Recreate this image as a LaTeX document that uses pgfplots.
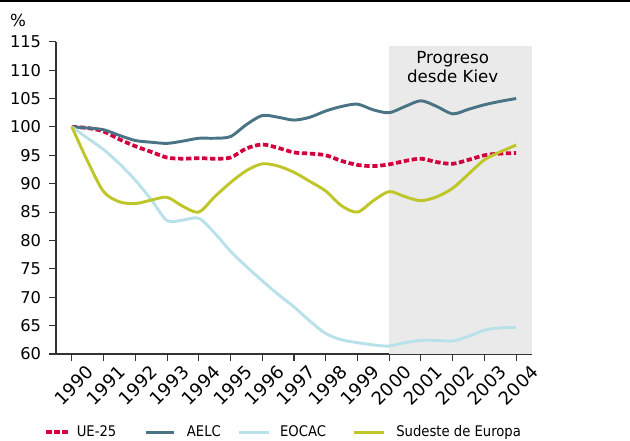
\documentclass[border=0pt]{standalone}
\usepackage{pgfplots}
\pgfplotsset{compat=1.18}
\usepackage{fontspec}
\setmainfont{DejaVu Sans}
\newfontfamily\legfont{DejaVu Sans Condensed}
\definecolor{ue}{HTML}{D2003F}
\definecolor{aelc}{HTML}{4A7486}
\definecolor{eocac}{HTML}{B9E1EA}
\definecolor{sud}{HTML}{BFC62A}
\definecolor{shade}{HTML}{EAEAEA}
\definecolor{axc}{HTML}{333333}
\pgfplotsset{leglen/.style={legend image code/.code={\draw[##1] (0pt,0pt) -- (#1,0pt);}}}
\begin{document}
\begin{tikzpicture}[font=\fontsize{12}{14.5}\selectfont]
\useasboundingbox (0pt,0pt) rectangle (472.5pt,330.75pt);
\draw[line width=1.2pt] (0pt,330.1pt) -- (472.5pt,330.1pt);
\begin{axis}[
  at={(42pt,65.25pt)}, anchor=south west, scale only axis,
  width=357pt, height=234.2pt,
  xmin=1989.5, xmax=2004.5, ymin=60, ymax=115,
  axis x line=bottom, axis y line=left,
  axis line style={-, line width=0.9pt, axc},
  xtick={1990,...,2004}, ytick={60,65,...,115},
  tick style={axc, line width=0.8pt},
  tick align=outside, major tick length=5pt,
  y tick label style={inner sep=0pt, xshift=-6pt, font=\fontsize{12.2}{13}\selectfont},
  x tick label style={rotate=45, anchor=north east, inner sep=0pt, xshift=5.5pt, yshift=-9pt, font=\fontsize{13.5}{14}\selectfont},
  xticklabel={\pgfmathprintnumber[1000 sep={},assume math mode=true]{\tick}},
  yticklabel={\pgfmathprintnumber[assume math mode=true]{\tick}},
  legend style={at={(0.479,-0.25)}, anchor=center, draw=none,
    legend columns=4, font=\legfont\fontsize{11}{13}\selectfont,
    /tikz/column 1/.style={column sep=2.5pt},
    /tikz/column 2/.style={column sep=19.5pt},
    /tikz/column 3/.style={column sep=6.25pt},
    /tikz/column 4/.style={column sep=10.25pt},
    /tikz/column 5/.style={column sep=5.5pt},
    /tikz/column 6/.style={column sep=17.75pt},
    /tikz/column 7/.style={column sep=6.25pt}},
  leglen=22.5pt,
  clip=false,
]
\addplot[fill=shade, draw=none, forget plot] coordinates {(2000,114.3) (2004.5,114.3)} \closedcycle;

\addplot[ue, line width=2.8pt, dash pattern=on 4pt off 2pt, smooth, leglen=17pt] coordinates {
(1990,100) (1990.5,99.8) (1991,99.2) (1991.5,97.8) (1992,96.6) (1992.5,95.6)
(1993,94.6) (1993.5,94.4) (1994,94.5) (1994.5,94.4) (1995,94.6) (1995.5,96.2)
(1996,96.9) (1996.5,96.3) (1997,95.5) (1997.5,95.3) (1998,95.0) (1998.5,94.0)
(1999,93.3) (1999.5,93.1) (2000,93.4) (2000.5,94.0) (2001,94.4) (2001.5,93.8)
(2002,93.5) (2002.5,94.2) (2003,95.0) (2003.5,95.3) (2004,95.4)};
\addlegendentry{UE-25}

\addplot[aelc, line width=2.2pt, smooth, leglen=21pt] coordinates {
(1990,100) (1990.5,99.8) (1991,99.5) (1991.5,98.5) (1992,97.6) (1992.5,97.3)
(1993,97.1) (1993.5,97.5) (1994,98.0) (1994.5,98.0) (1995,98.3) (1995.5,100.4)
(1996,102.0) (1996.5,101.7) (1997,101.2) (1997.5,101.7) (1998,102.8) (1998.5,103.6)
(1999,104.0) (1999.5,103.0) (2000,102.5) (2000.5,103.6) (2001,104.6) (2001.5,103.6)
(2002,102.3) (2002.5,103.1) (2003,103.9) (2003.5,104.5) (2004,105.0)};
\addlegendentry{AELC}

\addplot[eocac, line width=2.2pt, smooth] coordinates {
(1990,100) (1990.5,98.0) (1991,96.0) (1991.5,93.5) (1992,90.6) (1992.5,87.2)
(1993,83.5) (1993.5,83.6) (1994,83.9) (1994.5,81.3) (1995,78.1) (1995.5,75.4)
(1996,72.9) (1996.5,70.5) (1997,68.3) (1997.5,65.8) (1998,63.6) (1998.5,62.5)
(1999,62.0) (1999.5,61.6) (2000,61.4) (2000.5,62.0) (2001,62.4) (2001.5,62.4)
(2002,62.3) (2002.5,63.1) (2003,64.2) (2003.5,64.6) (2004,64.7)};
\addlegendentry{EOCAC}

\addplot[sud, line width=2.2pt, smooth] coordinates {
(1990,100) (1990.5,93.9) (1991,88.6) (1991.5,86.8) (1992,86.5) (1992.5,87.1)
(1993,87.6) (1993.5,86.0) (1994,85.0) (1994.5,87.7) (1995,90.2) (1995.5,92.3)
(1996,93.5) (1996.5,93.1) (1997,92.0) (1997.5,90.4) (1998,88.7) (1998.5,86.1)
(1999,85.0) (1999.5,87.0) (2000,88.6) (2000.5,87.7) (2001,87.0) (2001.5,87.7)
(2002,89.2) (2002.5,91.7) (2003,94.2) (2003.5,95.6) (2004,96.8)};
\addlegendentry{Sudeste de Europa}

\node[align=center, font=\fontsize{12.5}{14.5}\selectfont] at (axis cs:2002,110.6) {Progreso\\desde Kiev};
\end{axis}
\node[anchor=west, font=\fontsize{12.5}{13}\selectfont] at (4pt,315.5pt) {\%};
\end{tikzpicture}
\end{document}
